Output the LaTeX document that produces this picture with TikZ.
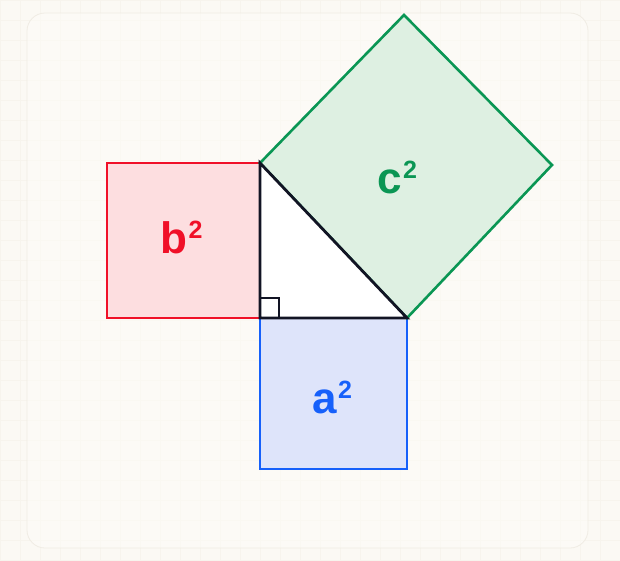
\documentclass[tikz,border=0pt]{standalone}
\usepackage{fontspec}
\setmainfont{Liberation Sans}
\definecolor{paper}{RGB}{251,249,244}
\definecolor{panel}{RGB}{253,252,248}
\definecolor{gridc}{RGB}{247,244,237}
\definecolor{panelline}{RGB}{240,236,228}
\definecolor{redline}{RGB}{240,16,40}
\definecolor{redfill}{RGB}{253,222,224}
\definecolor{blueline}{RGB}{22,96,250}
\definecolor{bluefill}{RGB}{222,228,250}
\definecolor{greenline}{RGB}{10,150,84}
\definecolor{greenfill}{RGB}{222,240,226}
\definecolor{ink}{RGB}{18,20,36}

\newcommand{\sqd}[1]{#1\hspace{1.5pt}\raisebox{15pt}{\fontsize{25}{25}\selectfont\bfseries 2}}

\tikzset{
  sqside/.style={line width=2.6pt, line join=miter},
  legs/.style={line width=2.8pt, draw=ink, line join=miter},
  sqlabel/.style={font=\fontsize{44}{44}\selectfont\bfseries, inner sep=0pt, anchor=base west},
}

\begin{document}
\begin{tikzpicture}[x=1pt,y=-1pt]
         \useasboundingbox (0,0) rectangle (620,560);
         \fill[paper] (0,0) rectangle (620,560);
         \foreach \gx in {0,20,...,620} \draw[gridc, line width=0.5pt] (\gx,0) -- (\gx,560);
         \foreach \gy in {0,20,...,560} \draw[gridc, line width=0.5pt] (0,\gy) -- (620,\gy);
         \draw[draw=panelline, fill=panel, fill opacity=0.5, rounded corners=18pt, line width=0.8pt] (27,13) rectangle (588,548);

         % corners of the triangle and squares
         \coordinate (C) at (260,318);
         \coordinate (A) at (260,163);
         \coordinate (B) at (407,318);
         \coordinate (Bd) at (407,469);
         \coordinate (Cd) at (260,469);
         \coordinate (Al) at (107,163);
         \coordinate (Cl) at (107,318);
         \coordinate (At) at (404,15);
         \coordinate (Br) at (552,165);

         \draw[sqside, draw=blueline, fill=bluefill] (C) -- (B) -- (Bd) -- (Cd) -- cycle;
         \draw[sqside, draw=redline, fill=redfill] (A) -- (Al) -- (Cl) -- (C) -- cycle;
         \draw[sqside, draw=greenline, fill=greenfill] (A) -- (At) -- (Br) -- (B) -- cycle;

         \draw[legs, fill=white] (A) -- (C) -- (B) -- cycle;
         \draw[line width=2.2pt, draw=ink] (260,298) -- (279,298) -- (279,318);

         \node[sqlabel, text=blueline] (asq) at (312,413) {\sqd{a}};
         \node[sqlabel, text=redline] (bsq) at (160,253) {\sqd{b}};
         \node[sqlabel, text=greenline] (csq) at (377,193) {\sqd{c}};
\end{tikzpicture}
\end{document}
